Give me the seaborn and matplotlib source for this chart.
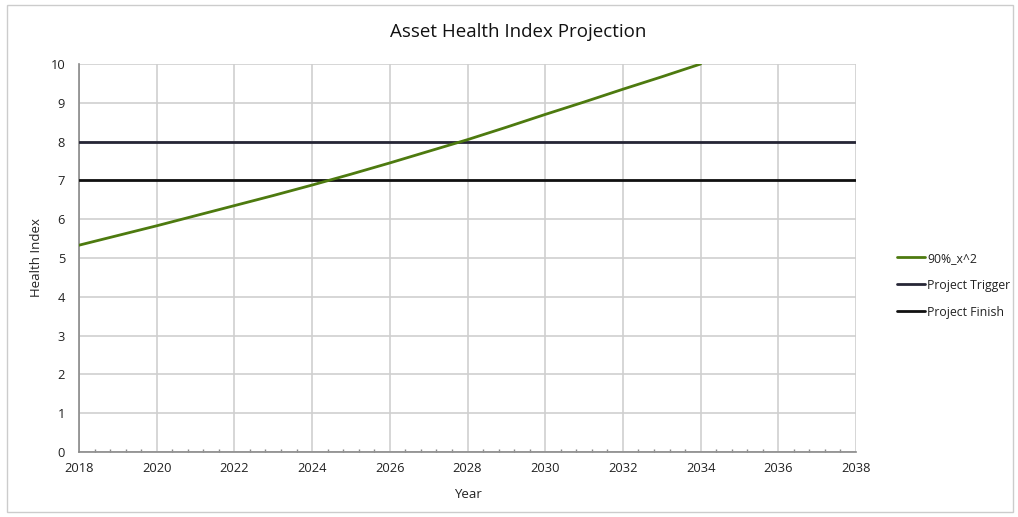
import matplotlib
matplotlib.use("Agg")
import matplotlib.pyplot as plt
import seaborn as sns
import pandas as pd
import numpy as np
from matplotlib.patches import Rectangle
from matplotlib.ticker import MultipleLocator

years = list(range(2018, 2035))
health = [5.33, 5.58, 5.83, 6.09, 6.35, 6.61, 6.88, 7.16, 7.45, 7.75, 8.05, 8.37, 8.70, 9.02, 9.35, 9.67, 10.0]
trigger_x = [2018, 2038]
trigger_y = [8, 8]
finish_x = [2018, 2038]
finish_y = [7, 7]

sns.set_theme(style="white")
plt.rcParams['font.family'] = ['Open Sans', 'DejaVu Sans']

fig = plt.figure(figsize=(10.18, 5.17), dpi=100)
ax = fig.add_axes([79/1018, 1-452/517, (856-79)/1018, (452-64)/517])

df = pd.DataFrame({"Year": years, "Health": health})
sns.lineplot(data=df, x="Year", y="Health", ax=ax, color="#4d7a0f", lw=2, label="90%_x^2", zorder=5)
sns.lineplot(x=trigger_x, y=trigger_y, ax=ax, color="#262636", lw=2, label="Project Trigger", zorder=4)
sns.lineplot(x=finish_x, y=finish_y, ax=ax, color="#111111", lw=2, label="Project Finish", zorder=4)

ax.set_xlim(2018, 2038)
ax.set_ylim(0, 10)
ax.xaxis.set_major_locator(MultipleLocator(2))
ax.xaxis.set_minor_locator(MultipleLocator(0.4))
ax.yaxis.set_major_locator(MultipleLocator(1))
ax.grid(True, which="major", color="#cfcfcf", lw=1.2)
ax.set_axisbelow(True)
for s in ["top", "right"]:
    ax.spines[s].set_visible(False)
for s in ["left", "bottom"]:
    ax.spines[s].set_color("#8a8a8a")
    ax.spines[s].set_linewidth(1.2)
ax.tick_params(axis="x", which="major", direction="inout", length=7, width=1, color="#8a8a8a", labelsize=9.3, pad=4, labelcolor="#222222")
ax.tick_params(axis="x", which="minor", direction="in", length=2.5, width=1, color="#8a8a8a", bottom=True)
ax.tick_params(axis="y", which="major", length=0, labelsize=9.3, pad=10, labelcolor="#222222")
ax.set_xlabel("Year", fontsize=9.5, color="#222222", labelpad=9)
ax.set_ylabel("Health Index", fontsize=9.5, color="#222222", labelpad=5)
fig.text(518/1018, 1-32/517, "Asset Health Index Projection", ha="center", va="center", fontsize=13.5, color="#111111")

leg = ax.legend(loc="center left", bbox_to_anchor=(1.038, 0.43), frameon=False, fontsize=8.8,
                handlelength=2.3, handletextpad=0.2, labelspacing=1.15)
for t in leg.get_texts():
    t.set_color("#222222")

fig.patches.append(Rectangle((7/1018, 5/517), 1006/1018, 507/517, transform=fig.transFigure,
                             fill=False, edgecolor="#cccccc", lw=1))
fig.savefig("out.png", dpi=100)
